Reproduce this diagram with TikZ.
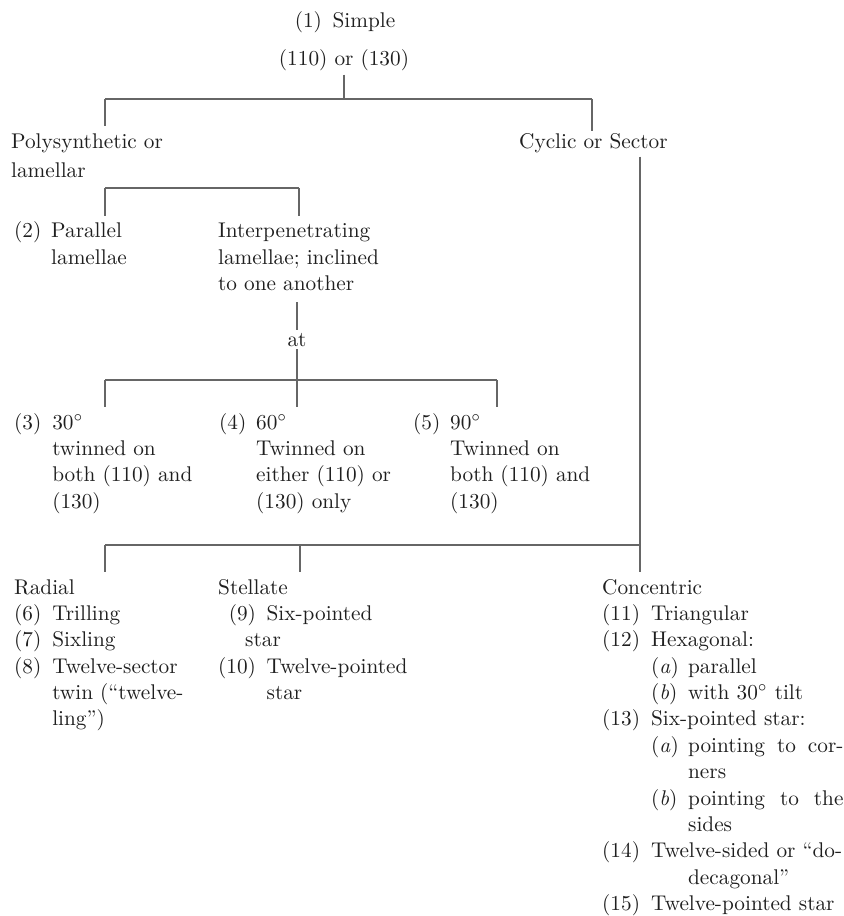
\documentclass[tikz,border=0pt]{standalone}
\usepackage{tikz}
\usetikzlibrary{calc,positioning}

\tikzset{
  txt/.style={inner sep=0pt, outer sep=1.5pt, text=black!88, font=\fontsize{10}{12.4}\selectfont},
  tree/.style={draw=black!60, line width=0.7pt},
}
\newcommand{\subitm}[1]{\makebox[17.4pt][l]{(\textit{#1})}}
\newcommand{\subgap}{\hspace*{17.4pt}}

\begin{document}
\begin{tikzpicture}[x=0.47pt,y=-0.47pt]
        \useasboundingbox (0,0) rectangle (843,916);

        % top of the tree
        \node[txt,anchor=base] (simple) at (345,28) {(1)\enspace Simple};
        \node[txt,anchor=base] (planes) at (344,66) {(110) or (130)};
        \node[txt,anchor=base west] (poly) at (8,149)
            {\fontsize{10}{13.2}\selectfont\begin{tabular}[t]{@{}l@{}}Polysynthetic or\\lamellar\end{tabular}};
        \node[txt,anchor=base west] (cyclic) at (516,149) {Cyclic or Sector};

        % lamellar branch
        \node[txt,anchor=base west] (parallel) at (11,238)
            {\begin{tabular}[t]{@{}p{17.4pt}@{}l@{}}(2)&Parallel\\&lamellae\end{tabular}};
        \node[txt,anchor=base west] (interp) at (215,238)
            {\begin{tabular}[t]{@{}l@{}}Interpenetrating\\lamellae; inclined\\to one another\end{tabular}};
        \node[txt,anchor=base] (at) at (297,346) {at};

        \node[txt,anchor=base west] (t30) at (11,429)
            {\begin{tabular}[t]{@{}p{17.9pt}@{}l@{}}(3)&30$^\circ$\\&twinned on\\&both (110) and\\&(130)\end{tabular}};
        \node[txt,anchor=base west] (t60) at (216,429)
            {\begin{tabular}[t]{@{}p{17.4pt}@{}l@{}}(4)&60$^\circ$\\&Twinned on\\&either (110) or\\&(130) only\end{tabular}};
        \node[txt,anchor=base west] (t90) at (410,429)
            {\begin{tabular}[t]{@{}p{17.4pt}@{}l@{}}(5)&90$^\circ$\\&Twinned on\\&both (110) and\\&(130)\end{tabular}};

        % sector branch
        \node[txt,anchor=base west] (radial) at (11,594)
            {\begin{tabular}[t]{@{}p{17.9pt}@{}l@{}}
             \multicolumn{2}{@{}l@{}}{Radial}\\
             (6)&Trilling\\
             (7)&Sixling\\
             (8)&Twelve-sector\\
             &twin (``twelve-\\
             &ling'')
             \end{tabular}};
        \node[txt,anchor=base west] (stellate) at (215,594)
            {\begin{tabular}[t]{@{}r@{\hspace{5pt}}l@{}}
             \multicolumn{2}{@{}l@{}}{Stellate}\\
             (9)&Six-pointed\\
             \multicolumn{2}{@{}l@{}}{\hspace*{12.7pt}star}\\
             (10)&Twelve-pointed\\
             &star
             \end{tabular}};
        \node[txt,anchor=base west] (concentric) at (599,594)
            {\begin{tabular}[t]{@{}p{23pt}@{}l@{}}
             \multicolumn{2}{@{}l@{}}{Concentric}\\
             (11)&Triangular\\
             (12)&Hexagonal:\\
             &\subitm{a}parallel\\
             &\subitm{b}with 30$^\circ$ tilt\\
             (13)&Six-pointed star:\\
             &\subitm{a}\makebox[73pt][s]{pointing to cor-}\\
             &\subgap ners\\
             &\subitm{b}\makebox[73pt][s]{pointing to the}\\
             &\subgap sides\\
             (14)&Twelve-sided or ``do-\\
             &\subgap decagonal''\\
             (15)&Twelve-pointed star
             \end{tabular}};

        % bars
        \coordinate (b1l) at (105,99);
        \coordinate (b1r) at (592,99);
        \coordinate (b2l) at (105,188);
        \coordinate (b2r) at (299,188);
        \coordinate (b3l) at (105,380);
        \coordinate (b3m) at (297,380);
        \coordinate (b3r) at (497,380);
        \coordinate (b4l) at (105,545);
        \coordinate (b4m) at (300,545);
        \coordinate (b4r) at (640,545);

        \draw[tree] (planes) -- (planes |- b1l);
        \draw[tree] (at) -- (at |- interp.south);
        \draw[tree] (at) -- (at |- b3l);
        \draw[tree] (b4r |- cyclic.south) -- (b4r);

        \draw[tree] (b1l) -- (b1r);
        \draw[tree] (b2l) -- (b2r);
        \draw[tree] (b3l) -- (b3r);
        \draw[tree] (b4l) -- (b4r);

        \foreach \b/\n in
        {b1l/poly, b1r/cyclic,
         b2l/parallel, b2r/interp,
         b3l/t30, b3m/t60, b3r/t90,
         b4l/radial, b4m/stellate, b4r/concentric}
        {
            \draw[tree] (\b) -- (\b |- \n.north);
        };

\end{tikzpicture}
\end{document}
